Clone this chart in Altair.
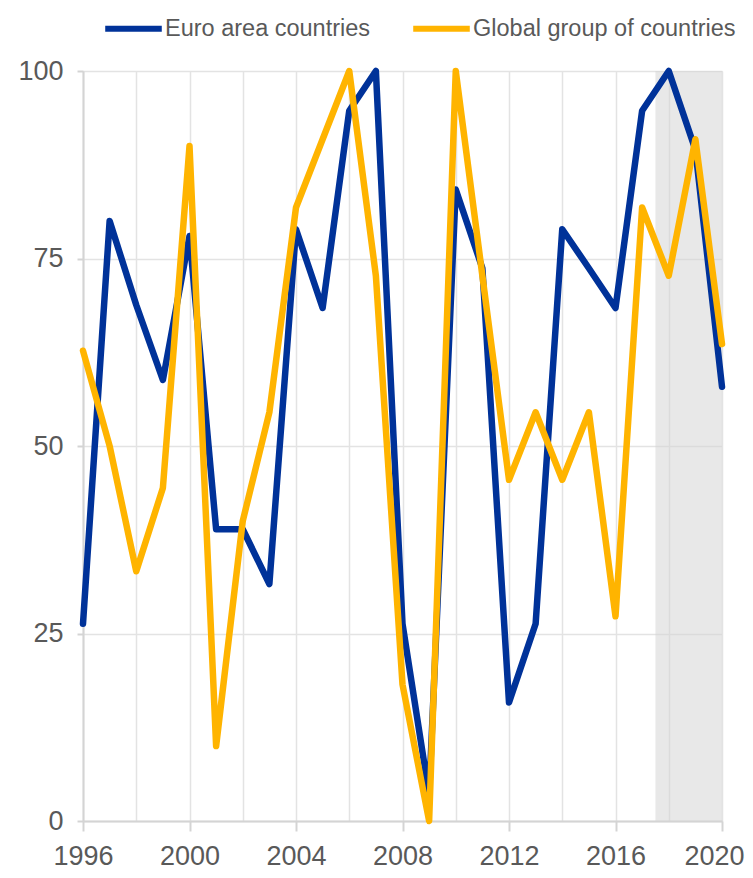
import altair as alt
import pandas as pd

years = list(range(1996, 2021))
euro_area = [26.3, 80.0, 68.8, 58.8, 78.0, 38.9, 38.9, 31.6, 78.9, 68.4, 94.7, 100.0, 26.3, 3.5,
             84.2, 73.7, 15.8, 26.3, 78.9, 73.7, 68.4, 94.7, 100.0, 89.5, 57.9]
global_group = [62.7, 50.0, 33.3, 44.4, 90.0, 10.0, 40.0, 54.5, 81.8, 90.9, 100.0, 72.7, 18.2, 0.0,
                100.0, 72.7, 45.5, 54.5, 45.5, 54.5, 27.3, 81.8, 72.7, 90.9, 63.6]
series_names = ["Euro area countries", "Global group of countries"]
series_colors = ["#003299", "#FFB400"]
shade_start = [2017.5]
shade_end = [2020]

rows = []
for name, vals in zip(series_names, [euro_area, global_group]):
    for y, v in zip(years, vals):
        rows.append({"year": y, "value": v, "series": name})
df = pd.DataFrame(rows)
shade = pd.DataFrame({"x": shade_start, "x2": shade_end, "y": [0], "y2": [100]})

FONT = "Liberation Sans"
GREY = "#595959"
AXC = "#d4d4d4"

xscale = alt.Scale(domain=[1996, 2020], nice=False, zero=False)
yscale = alt.Scale(domain=[0, 100], nice=False)

rect = alt.Chart(shade).mark_rect(fill="#d6d6d6", opacity=0.55).encode(
    x=alt.X("x:Q", scale=xscale),
    x2="x2:Q",
    y=alt.Y("y:Q", scale=yscale),
    y2="y2:Q",
)

lines = alt.Chart(df).mark_line(strokeWidth=6.5, strokeJoin="round", strokeCap="round").encode(
    x=alt.X("year:Q", scale=xscale, title=None,
            axis=alt.Axis(values=list(range(1996, 2021, 2)),
                          labelExpr="datum.value % 4 === 0 ? datum.label : ''",
                          format="d",
                          tickOpacity={"expr": "datum.value % 4 === 0 ? 1 : 0"},
                          labelOffset={"expr": "datum.value === 2020 ? -8 : 0"},
                          tickSize=10, tickColor=AXC, tickWidth=2,
                          domainColor=AXC, domainWidth=2,
                          gridColor="#e3e3e3", gridWidth=1.5,
                          labelFont=FONT, labelFontSize=27, labelColor=GREY,
                          labelPadding=12, labelFlush=False, labelOverlap=False)),
    y=alt.Y("value:Q", scale=yscale, title=None,
            axis=alt.Axis(values=[0, 25, 50, 75, 100],
                          tickSize=6, tickColor=AXC, tickWidth=2,
                          domainColor=AXC, domainWidth=2,
                          gridColor="#e3e3e3", gridWidth=1.5,
                          labelFont=FONT, labelFontSize=27, labelColor=GREY,
                          labelPadding=14)),
    color=alt.Color("series:N",
                    scale=alt.Scale(domain=series_names, range=series_colors),
                    legend=alt.Legend(title=None, orient="none", direction="horizontal",
                                      legendX=19, legendY=-74,
                                      symbolType="stroke", symbolSize=3200,
                                      symbolStrokeWidth=6, labelFont=FONT,
                                      labelFontSize=23.5, labelColor=GREY,
                                      labelOffset=0, columnPadding=30,
                                      labelLimit=400)),
    order="year:Q",
)

chart = alt.layer(rect, lines).properties(
    width=639, height=750,
    autosize=alt.AutoSizeParams(type="none"),
    padding={"left": 75, "top": 63, "right": 23, "bottom": 49},
).configure_view(stroke=None).configure(background="white")

chart.save("out.html", embed_options={"renderer": "svg", "actions": False})
